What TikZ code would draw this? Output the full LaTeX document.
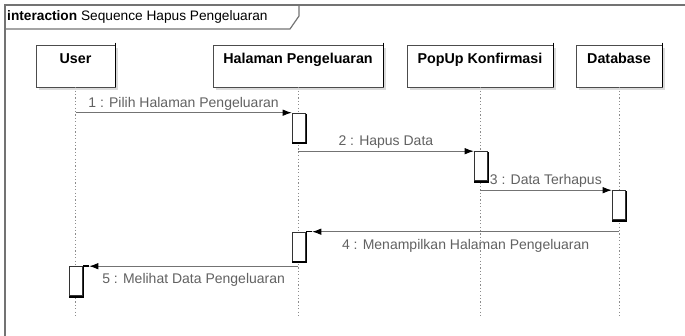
\documentclass[tikz,border=0pt]{standalone}
\usepackage{fontspec}
\setmainfont{Liberation Sans}
\usetikzlibrary{arrows.meta,shadows}

\tikzset{
  frameline/.style={draw=black!55, line width=1.2pt},
  head/.style={draw=black!70, fill=white, line width=0.6pt, inner sep=0pt,
    minimum height=42pt,
    drop shadow={shadow xshift=3pt, shadow yshift=-3pt, fill=black!14, opacity=1}},
  headtext/.style={font=\bfseries\fontsize{14.3}{16}\selectfont},
  life/.style={draw=black!45, line width=0.6pt, dash pattern=on 1.2pt off 2.2pt},
  act/.style={draw=black!80, fill=white, line width=0.6pt, inner sep=0pt,
    minimum width=13pt, minimum height=29pt},
  actshade/.style={draw=black, line width=1.6pt},
  msg/.style={draw=black!55, line width=0.8pt,
    -{Latex[length=9pt,width=6.5pt,black]}},
  msglabel/.style={text=black!62, font=\fontsize{14}{16}\selectfont, inner sep=2pt},
}

\begin{document}
\begin{tikzpicture}[x=1pt,y=-1pt]
\useasboundingbox (0,0) rectangle (685,336);

% interaction frame with its name tab
\begin{scope}
\clip (0,0) rectangle (685,336);
\draw[frameline] (5,5) rectangle (700,350);
\draw[frameline] (5,29) -- (290,29) -- (299,16) -- (299,5);
\end{scope}
\node[anchor=west, inner sep=0pt, font=\fontsize{13.7}{15}\selectfont] (title) at (7,17)
  {\textbf{interaction} Sequence Hapus Pengeluaran};

% lifeline heads
\node[head, minimum width=79pt]  (user) at (75.5,66) {};
\node[head, minimum width=170pt] (hal)  at (298,66)  {};
\node[head, minimum width=146pt] (pop)  at (480,66)  {};
\node[head, minimum width=86pt]  (db)   at (619,66)  {};
\foreach \h/\t in {user/User, hal/Halaman Pengeluaran, pop/PopUp Konfirmasi, db/Database}{
  \node[headtext, anchor=north] (\h-name) at ([yshift=-5pt]\h.north) {\t};
  \draw[line width=1.5pt] ([yshift=2pt]\h.north east) -- (\h.south east);
}

% dashed lifelines
\coordinate (bottom) at (0,316);
\foreach \h in {user,hal,pop,db}{
  \draw[life] (\h.south) -- (\h.south |- bottom);
}

% activation bars
\node[act] (a1) at (298.5,127.5) {};
\node[act] (a2) at (480.5,166)   {};
\node[act] (a3) at (618.5,205)   {};
\node[act] (a4) at (298.5,246.5) {};
\node[act] (a5) at (75.5,281)    {};
\foreach \a in {a1,a2,a3}{
  \draw[actshade] ([xshift=1pt,yshift=-1pt]\a.north east) -- ([xshift=1pt,yshift=-1pt]\a.south east)
    -- ([yshift=-1pt]\a.south west);
}
\foreach \a in {a4,a5}{
  \draw[actshade] ([xshift=7pt]\a.north east) -| ([xshift=1pt,yshift=-1pt]\a.south east)
    -- ([yshift=-1pt]\a.south west);
}

% messages
\draw[msg] (user.south |- a1.north) -- (a1.north west)
  node[msglabel, midway, above] (l1) {1 : Pilih Halaman Pengeluaran};
\draw[msg] (hal.south |- a2.north) -- (a2.north west)
  node[msglabel, midway, above] (l2) {2 : Hapus Data};
\draw[msg] (pop.south |- a3.north) -- (a3.north west)
  node[msglabel, midway, above] (l3) {3 : Data Terhapus};
\draw[msg] (db.south |- a4.north) -- ([xshift=7pt]a4.north east)
  node[msglabel, midway, below, yshift=-5pt] (l4) {4 : Menampilkan Halaman Pengeluaran};
\draw[msg] (hal.south |- a5.north) -- ([xshift=7pt]a5.north east)
  node[msglabel, midway, below, yshift=-5pt] (l5) {5 : Melihat Data Pengeluaran};
\end{tikzpicture}
\end{document}
